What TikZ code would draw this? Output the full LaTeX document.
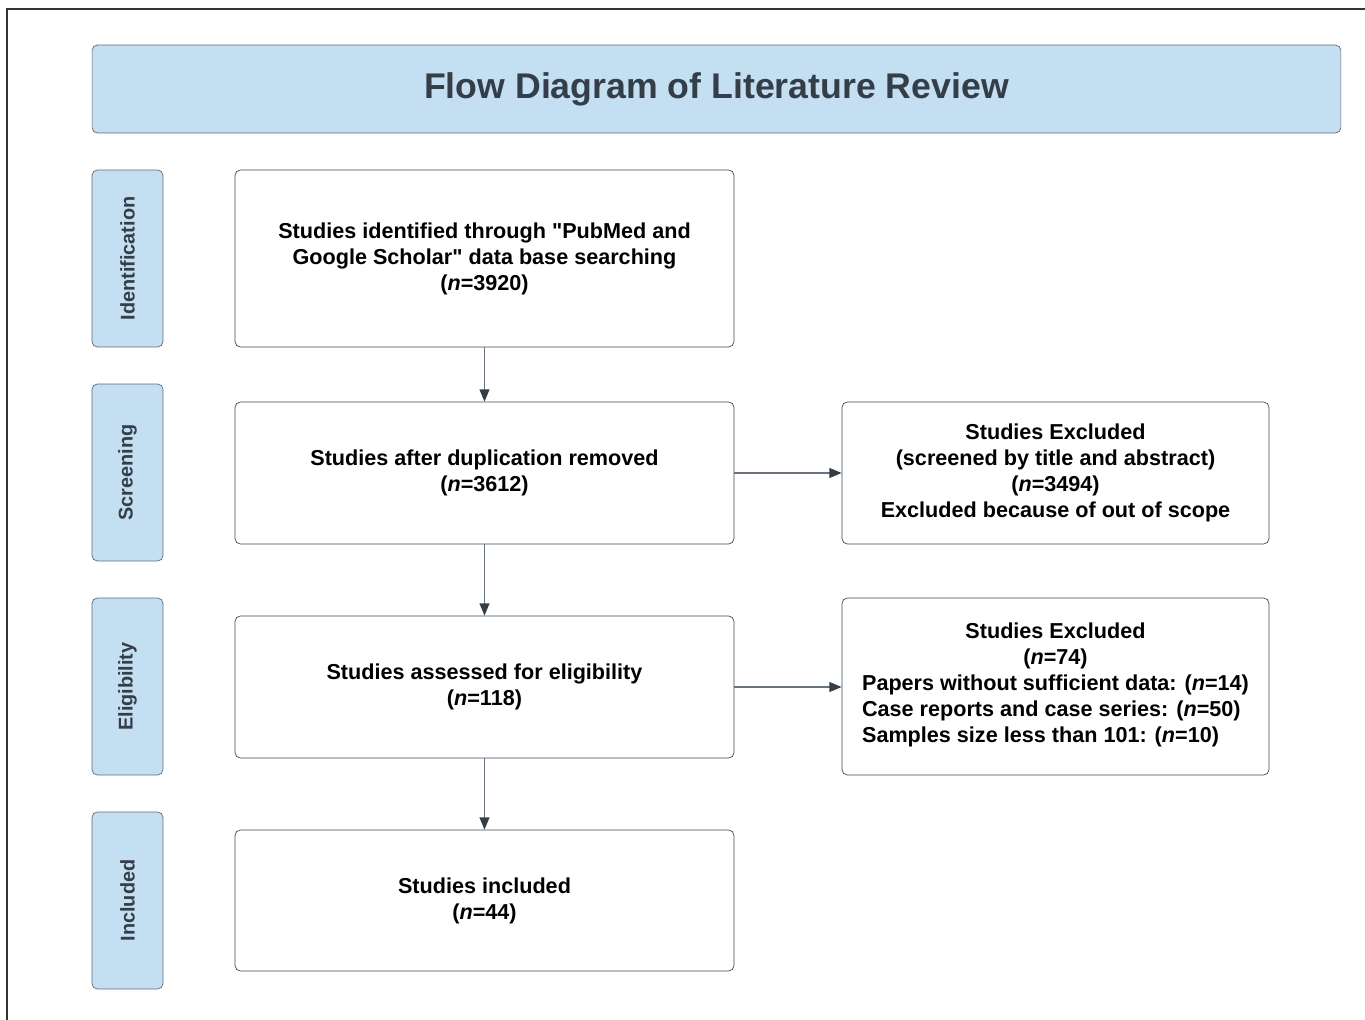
\documentclass[tikz,border=0pt]{standalone}
\usepackage{fontspec}
\setmainfont{Liberation Sans}
\usetikzlibrary{arrows.meta,positioning}
\definecolor{stagebg}{RGB}{196,222,242}
\definecolor{stageline}{RGB}{95,106,116}
\definecolor{boxline}{RGB}{62,74,86}
\definecolor{darktext}{RGB}{51,62,72}
\definecolor{arrline}{RGB}{105,115,125}

\begin{document}
\begin{tikzpicture}[x=0.02cm, y=-0.02cm, font=\bfseries\fontsize{12.3}{14.8}\selectfont,
  >={Triangle[length=7pt, width=5.6pt, color=darktext]},
  head/.style={draw=stageline, fill=stagebg, rounded corners=3pt, minimum width=24.98cm, minimum height=1.76cm, text=darktext, font=\bfseries\fontsize{20.3}{24}\selectfont},
  stage/.style={draw=stageline, fill=stagebg, rounded corners=3pt, rotate=90, minimum width=3.54cm, minimum height=1.42cm, text=darktext, font=\bfseries\fontsize{11.3}{13.5}\selectfont},
  box/.style={draw=boxline, rounded corners=3pt, minimum width=9.98cm, align=center, inner sep=0pt},
  xbox/.style={box, minimum width=8.54cm},
  arr/.style={->, draw=arrline, line width=0.8pt}]
  \useasboundingbox (0,0) rectangle (1365,1020);
  \draw[line width=1.1pt, black!80] (7,1020) -- (7,9) -- (1365,9);

  \node[head] (title) at (716.5,89) {Flow Diagram of Literature Review};

  \node[stage] (ident) at (127.5,258.5) {Identification};
  \node[stage] (screen) at (127.5,472.5) {Screening};
  \node[stage] (elig) at (127.5,686.5) {Eligibility};
  \node[stage] (incl) at (127.5,900.5) {Included};

  \node[box, minimum height=3.54cm] (found) at (484.5,258.5) {Studies identified through \textquotedbl PubMed and\\Google Scholar\textquotedbl{} data base searching\\(\textit{n}=3920)};
  \node[box, minimum height=2.84cm] (dedup) at (484.5,473) {Studies after duplication removed\\(\textit{n}=3612)};
  \node[box, minimum height=2.84cm] (assess) at (484.5,687) {Studies assessed for eligibility\\(\textit{n}=118)};
  \node[box, minimum height=2.82cm] (kept) at (484.5,900.5) {Studies included\\(\textit{n}=44)};

  \node[xbox, minimum height=2.84cm] (excl1) at (1055.5,473) {Studies Excluded\\(screened by title and abstract)\\(\textit{n}=3494)\\Excluded because of out of scope};
  \node[xbox, minimum height=3.54cm] (excl2) at (1055.5,686.5) {Studies Excluded\\(\textit{n}=74)\\\begin{tabular}[t]{@{}l@{}}Papers without sufficient data: (\textit{n}=14)\\Case reports and case series: (\textit{n}=50)\\Samples size less than 101: (\textit{n}=10)\end{tabular}};

  \draw[arr] (found) -- (dedup);
  \draw[arr] (dedup) -- (assess);
  \draw[arr] (assess) -- (kept);
  \draw[arr] (dedup) -- (excl1);
  \draw[arr] (assess.east) -- (assess.east -| excl2.west);
\end{tikzpicture}
\end{document}
